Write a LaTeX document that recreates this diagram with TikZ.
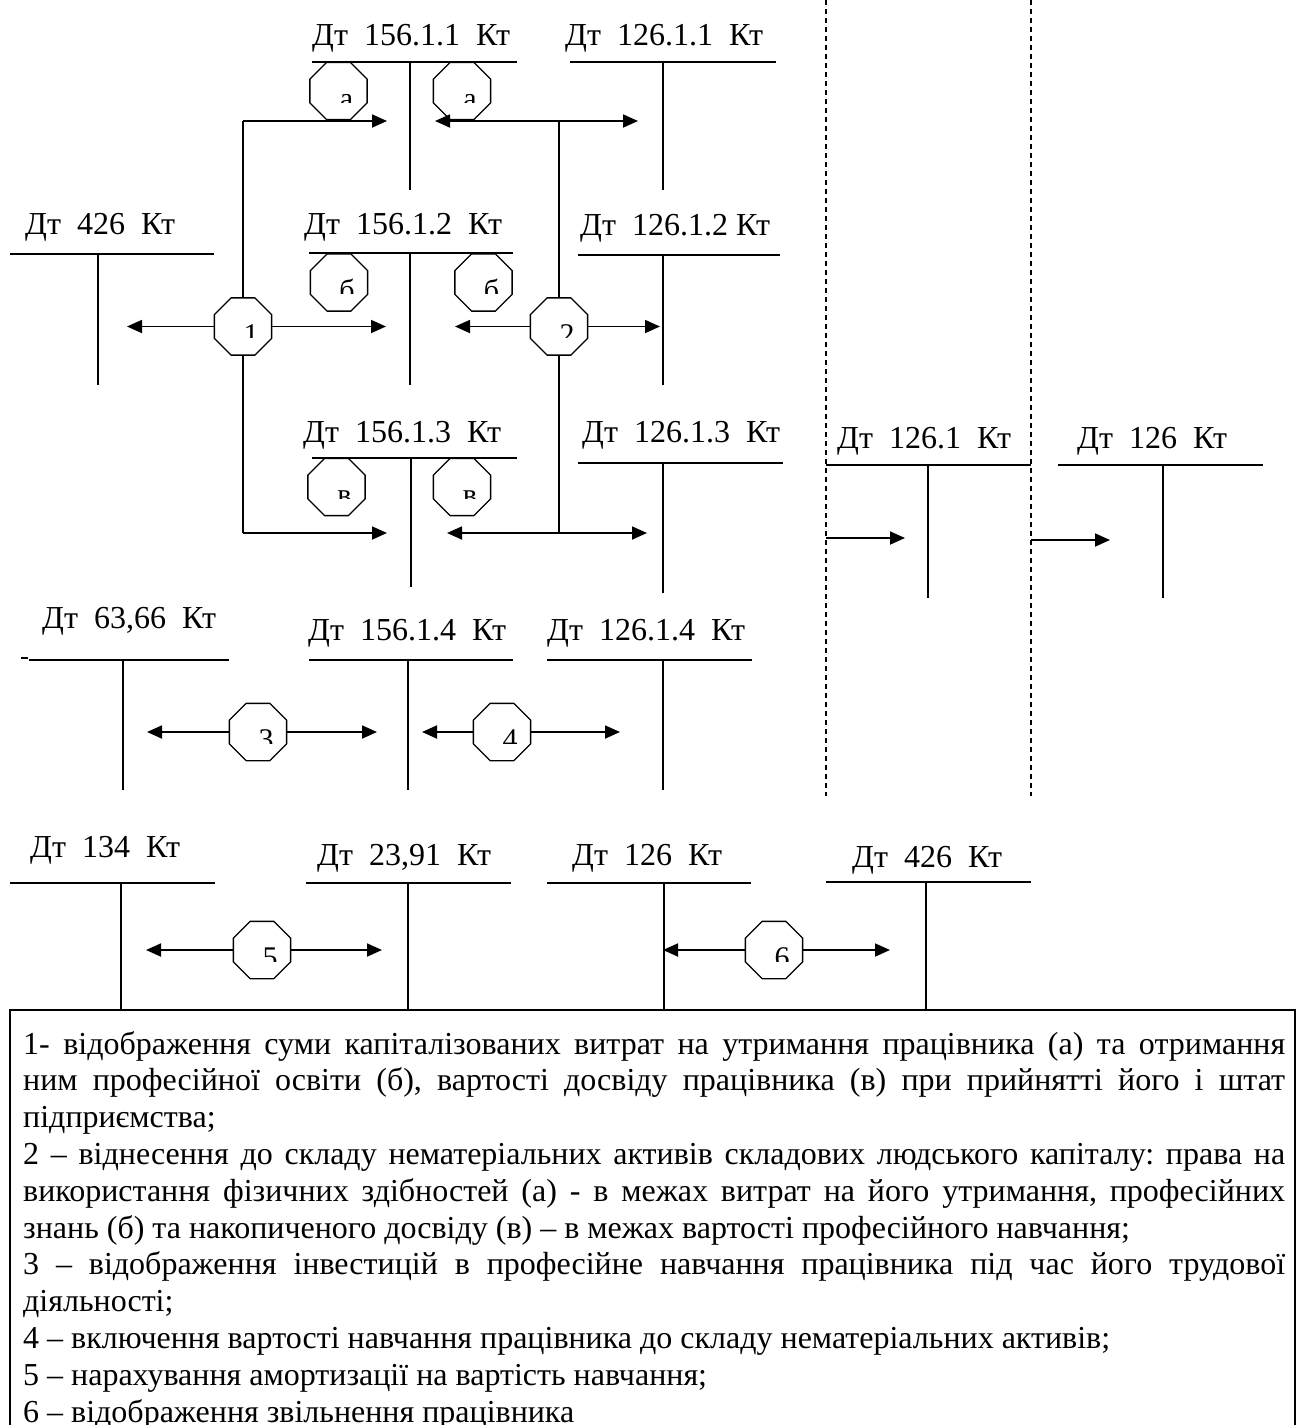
\documentclass[tikz,border=0pt]{standalone}
\usepackage{fontspec}
\setmainfont{Liberation Serif}
\usetikzlibrary{shapes.geometric,arrows.meta}
\frenchspacing
\newcommand\labfont{\fontsize{32pt}{38pt}\selectfont}
\newcommand\octfont{\fontsize{30pt}{36pt}\selectfont}
\newcommand\bodyfont{\fontsize{32pt}{36.6pt}\selectfont}
% T-account: name, label, label x, label baseline y, hline x1, x2, hline y, vertical x, vertical bottom y
\newcommand\Tacct[9]{%
  \node[lab] (#1-l) at (#3,#4) {#2};
  \coordinate (#1-a) at (#5,#7);
  \coordinate (#1-b) at (#6,#7);
  \coordinate (#1-t) at (#8,#7);
  \coordinate (#1-e) at (#8,#9);
  \draw[tline] (#1-a) -- (#1-b);
  \draw[tline] (#1-t) -- (#1-e);}
% clipped label inside an octagon
\newcommand\Octtext[2]{%
  \begin{scope}
    \clip ([xshift=-30pt,yshift=30pt]#1.center) rectangle ([xshift=30pt,yshift=-11pt]#1.center);
    \node[octtxt] (#1-txt) at ([xshift=8pt,yshift=-17.5pt]#1.center) {#2};
  \end{scope}}
\begin{document}
\begin{tikzpicture}[x=1pt,y=-1pt,
  tline/.style={line width=1.8pt},
  lab/.style={anchor=base west, inner sep=0pt, font=\labfont},
  oct/.style={draw, fill=white, regular polygon, regular polygon sides=8,
              minimum size=62pt, inner sep=0pt, line width=1.3pt},
  octtxt/.style={anchor=base, inner sep=0pt, font=\octfont},
  arr/.style={line width=1.8pt, -{Triangle[length=15pt,width=13pt]}},
  plain/.style={line width=1.8pt},
  dashline/.style={line width=1.6pt, dash pattern=on 5pt off 4pt},
  bodyline/.style={anchor=base west, inner sep=0pt, font=\bodyfont}]
\useasboundingbox (0,0) rectangle (1300,1425);
\fill[white] (0,0) rectangle (1300,1425);
\clip (0,0) rectangle (1300,1425);

% dashed separators
\coordinate (d1t) at (826,0);    \coordinate (d1b) at (826,796);
\coordinate (d2t) at (1031,0);   \coordinate (d2b) at (1031,796);
\draw[dashline] (d1t) -- (d1b);
\draw[dashline] (d2t) -- (d2b);

% T-accounts
\Tacct{t1}{Дт\ \ 156.1.1\ \ Кт}{312}{45}{312}{517}{62}{410}{190}
\Tacct{t2}{Дт\ \ 126.1.1\ \ Кт}{565}{45}{570}{776}{62}{663}{190}
\Tacct{t3}{Дт\ \ 426\ \ Кт}{25}{234}{10}{214}{254}{98}{385}
\Tacct{t4}{Дт\ \ 156.1.2\ \ Кт}{304}{234}{309}{513}{253}{410}{385}
\Tacct{t5}{Дт\ \ 126.1.2 Кт}{580}{235}{578}{780}{255}{663}{385}
\Tacct{t6}{Дт\ \ 156.1.3\ \ Кт}{303}{442}{312}{517}{458}{411}{587}
\Tacct{t7}{Дт\ \ 126.1.3\ \ Кт}{582}{442}{578}{783}{463}{663}{593}
\Tacct{t8}{Дт\ \ 126.1\ \ Кт}{837}{448}{826}{1031}{465}{928}{598}
\Tacct{t9}{Дт\ \ 126\ \ Кт}{1077}{448}{1058}{1263}{465}{1163}{598}
\Tacct{t10}{Дт\ \ 63,66\ \ Кт}{42}{628}{29}{229}{660}{123}{790}
\Tacct{t11}{Дт\ \ 156.1.4\ \ Кт}{308}{640}{309}{513}{660}{408}{790}
\Tacct{t12}{Дт\ \ 126.1.4\ \ Кт}{547}{640}{547}{752}{660}{663}{790}
\Tacct{t13}{Дт\ \ 134\ \ Кт}{30}{857}{10}{215}{883}{121}{1010}
\Tacct{t14}{Дт\ \ 23,91\ \ Кт}{317}{865}{306}{511}{883}{408}{1010}
\Tacct{t15}{Дт\ \ 126\ \ Кт}{572}{865}{547}{751}{883}{664}{1010}
\Tacct{t16}{Дт\ \ 426\ \ Кт}{852}{867}{826}{1031}{882}{926}{1010}
% stray dash at the start of 63,66
\coordinate (sd1) at (21,658); \coordinate (sd2) at (28,658);
\draw[line width=2pt] (sd1) -- (sd2);

% junction points and arrow ends
\coordinate (j1t) at (243,121);  \coordinate (j1b) at (243,533);
\coordinate (j2t) at (559,121);  \coordinate (j2b) at (559,533);
\coordinate (e1t) at (387,121);  \coordinate (e1b) at (387,533);
\coordinate (e2tl) at (435,121); \coordinate (e2tr) at (638,121);
\coordinate (e2bl) at (447,533); \coordinate (e2br) at (647,533);
\coordinate (e1l) at (127,326.5); \coordinate (e1r) at (386,326.5);
\coordinate (e2l) at (455,326.5); \coordinate (e2r) at (660,326.5);
\coordinate (e3l) at (147,732);  \coordinate (e3r) at (377,732);
\coordinate (e4l) at (422,732);  \coordinate (e4r) at (620,732);
\coordinate (e5l) at (146,950);  \coordinate (e5r) at (382,950);
\coordinate (e6l) at (663,950);  \coordinate (e6r) at (890,950);
\coordinate (s7) at (826,538);   \coordinate (e7) at (905,538);
\coordinate (s8) at (1031,540);  \coordinate (e8) at (1110,540);

% octagons
\node[oct] (oa1) at (338.5,91) {};
\node[oct] (oa2) at (462,91) {};
\node[oct] (ob1) at (339,282.5) {};
\node[oct] (ob2) at (483.5,282.5) {};
\node[oct] (ov1) at (336.5,487) {};
\node[oct] (ov2) at (462,487) {};
\node[oct] (o1) at (243,326.5) {};
\node[oct] (o2) at (559,326.5) {};
\node[oct] (o3) at (258,732) {};
\node[oct] (o4) at (502,732) {};
\node[oct] (o5) at (262,950) {};
\node[oct] (o6) at (774,950) {};

% connectors
\draw[plain] (j1t) -- (o1.north);
\draw[plain] (o1.south) -- (j1b);
\draw[arr] (j1t) -- (e1t);
\draw[arr] (j1b) -- (e1b);
\draw[arr] (o1.west) -- (e1l);
\draw[arr] (o1.east) -- (e1r);
\draw[plain] (j2t) -- (o2.north);
\draw[plain] (o2.south) -- (j2b);
\draw[arr] (j2t) -- (e2tl);
\draw[arr] (j2t) -- (e2tr);
\draw[arr] (j2b) -- (e2bl);
\draw[arr] (j2b) -- (e2br);
\draw[arr] (o2.west) -- (e2l);
\draw[arr] (o2.east) -- (e2r);
\draw[arr] (o3.west) -- (e3l);
\draw[arr] (o3.east) -- (e3r);
\draw[arr] (o4.west) -- (e4l);
\draw[arr] (o4.east) -- (e4r);
\draw[arr] (o5.west) -- (e5l);
\draw[arr] (o5.east) -- (e5r);
\draw[arr] (o6.west) -- (e6l);
\draw[arr] (o6.east) -- (e6r);
\draw[arr] (s7) -- (e7);
\draw[arr] (s8) -- (e8);

% clipped octagon labels
\Octtext{oa1}{а}
\Octtext{oa2}{а}
\Octtext{ob1}{б}
\Octtext{ob2}{б}
\Octtext{ov1}{в}
\Octtext{ov2}{в}
\Octtext{o1}{1}
\Octtext{o2}{2}
\Octtext{o3}{3}
\Octtext{o4}{4}
\Octtext{o5}{5}
\Octtext{o6}{6}

% legend box
\draw[line width=1.8pt] (10,1010) rectangle (1295,1480);
\node[bodyline] (l1) at (23,1054) {\makebox[1262pt][s]{1- відображення суми капіталізованих витрат на утримання працівника (а) та отримання}};
\node[bodyline] (l2) at (23,1090.8) {\makebox[1262pt][s]{ним професійної освіти (б), вартості досвіду працівника (в) при прийнятті його і штат}};
\node[bodyline] (l3) at (23,1127.6) {підприємства;};
\node[bodyline] (l4) at (23,1164.4) {\makebox[1262pt][s]{2 – віднесення до складу нематеріальних активів складових людського капіталу: права на}};
\node[bodyline] (l5) at (23,1201.2) {\makebox[1262pt][s]{використання фізичних здібностей (а) - в межах витрат на його утримання, професійних}};
\node[bodyline] (l6) at (23,1238) {знань (б) та накопиченого досвіду (в) – в межах вартості професійного навчання;};
\node[bodyline] (l7) at (23,1274.8) {\makebox[1262pt][s]{3 – відображення інвестицій в професійне навчання працівника під час його трудової}};
\node[bodyline] (l8) at (23,1311.6) {діяльності;};
\node[bodyline] (l9) at (23,1348.4) {4 – включення вартості навчання працівника до складу нематеріальних активів;};
\node[bodyline] (l10) at (23,1385.2) {5 – нарахування амортизації на вартість навчання;};
\node[bodyline] (l11) at (23,1422) {6 – відображення звільнення працівника};
\end{tikzpicture}
\end{document}
